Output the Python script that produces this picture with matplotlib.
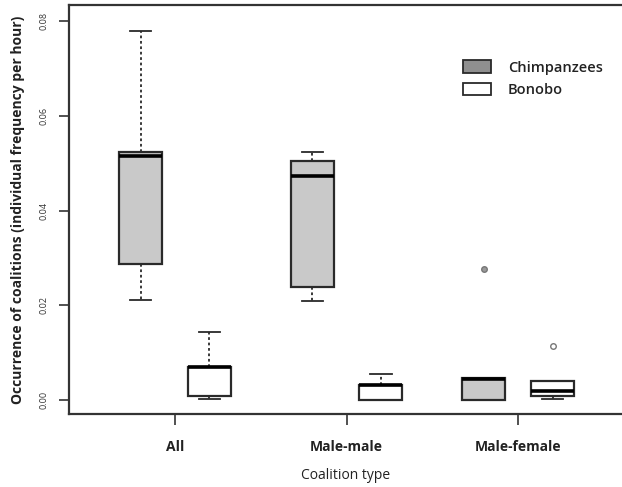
import matplotlib
matplotlib.use("Agg")
import matplotlib.pyplot as plt
from matplotlib.patches import Patch

categories = ["All", "Male-male", "Male-female"]
species = ["Chimpanzees", "Bonobo"]

# five-number summaries
chimp_whislo = [0.0211, 0.0210, 0.0000]
chimp_q1 = [0.0287, 0.0239, 0.0000]
chimp_med = [0.0515, 0.0472, 0.0045]
chimp_q3 = [0.0524, 0.0505, 0.0047]
chimp_whishi = [0.0780, 0.0524, 0.0047]
chimp_fliers = [[], [], [0.0276]]

bono_whislo = [0.00015, 0.0000, 0.00015]
bono_q1 = [0.00084, 0.0001, 0.00084]
bono_med = [0.0070, 0.0031, 0.0019]
bono_q3 = [0.0070, 0.0032, 0.0041]
bono_whishi = [0.01443, 0.0054, 0.0041]
bono_fliers = [[], [], [0.0114]]

yticks = [0.00, 0.02, 0.04, 0.06, 0.08]

plt.rcParams['font.family'] = ['Open Sans', 'DejaVu Sans']

fig = plt.figure(figsize=(6.22, 4.87), dpi=100)
ax = fig.add_axes([0.1109, 0.1499, 0.889, 0.8398])

def stats(wl, q1, med, q3, wh, fl):
    return [dict(whislo=a, q1=b, med=c, q3=d, whishi=e, fliers=f)
            for a, b, c, d, e, f in zip(wl, q1, med, q3, wh, fl)]

edge = "#2a2a2a"
off = 0.2
w = 0.25
common = dict(widths=w, patch_artist=True, showfliers=True,
              whiskerprops=dict(color=edge, linestyle=(0, (1.5, 1.5)), linewidth=1.3),
              capprops=dict(color=edge, linewidth=1.3),
              medianprops=dict(color="black", linewidth=2.6),
              capwidths=0.125)

b1 = ax.bxp(stats(chimp_whislo, chimp_q1, chimp_med, chimp_q3, chimp_whishi, chimp_fliers),
            positions=[i + 1 - off for i in range(3)],
            boxprops=dict(facecolor="#c9c9c9", edgecolor=edge, linewidth=1.6),
            flierprops=dict(marker="o", markersize=4, markerfacecolor="#999999",
                            markeredgecolor="#777777"),
            **common)
b2 = ax.bxp(stats(bono_whislo, bono_q1, bono_med, bono_q3, bono_whishi, bono_fliers),
            positions=[i + 1 + off for i in range(3)],
            boxprops=dict(facecolor="white", edgecolor=edge, linewidth=1.6),
            flierprops=dict(marker="o", markersize=4, markerfacecolor="white",
                            markeredgecolor="#777777"),
            **common)

ax.set_xlim(0.383, 3.604)
ax.set_ylim(-0.00296, 0.0834)
ax.set_xticks([1, 2, 3])
ax.set_xticklabels(categories, fontsize=10, fontweight="bold", color="#222222")
ax.set_yticks(yticks)
ax.set_yticklabels([f"{t:.2f}" for t in yticks], rotation=90, va="center",
                   fontsize=6.5, color="#333333")
ax.tick_params(axis="x", length=8, width=1.2, pad=11, color="#333333")
ax.tick_params(axis="y", length=7, width=1.2, pad=8, color="#333333")

for s in ["left", "top", "bottom"]:
    ax.spines[s].set_linewidth(1.6)
    ax.spines[s].set_color("#333333")
ax.spines["right"].set_visible(False)

ax.set_xlabel("Coalition type", fontsize=10, labelpad=10, color="#222222")
ax.set_ylabel("Occurrence of coalitions (individual frequency per hour)",
              fontsize=10, fontweight="bold", labelpad=10, color="#222222")

handles = [Patch(facecolor="#8f8f8f", edgecolor=edge, linewidth=1.3),
           Patch(facecolor="white", edgecolor=edge, linewidth=1.3)]
leg = ax.legend(handles, species, loc="upper left", bbox_to_anchor=(0.688, 0.897),
                frameon=False, fontsize=10.5, handlelength=1.92, handleheight=0.95,
                handletextpad=1.2, labelspacing=0.55)
for t in leg.get_texts():
    t.set_fontweight("semibold")
    t.set_color("#222222")

fig.savefig("out.png", dpi=100)
